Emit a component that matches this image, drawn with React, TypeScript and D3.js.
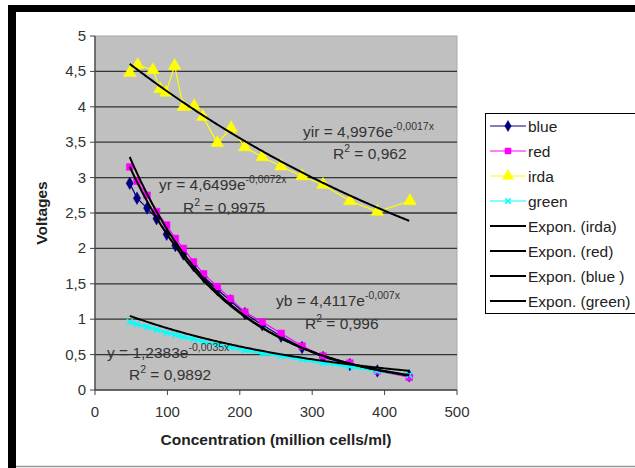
import { useEffect, useRef } from 'react'
import * as d3 from 'd3'

// values
const concentration = [48, 58, 72, 85, 99, 111, 122, 136, 150, 169, 187, 207, 231, 257, 286, 315, 352, 390, 434]
const irdaConcentration = [48, 59, 80, 90, 98, 110, 122, 137, 149, 169, 188, 207, 231, 257, 286, 315, 352, 390, 435]
const blue = [2.92, 2.71, 2.57, 2.42, 2.2, 2.04, 1.92, 1.76, 1.6, 1.42, 1.26, 1.08, 0.92, 0.76, 0.6, 0.46, 0.36, 0.27, 0.2]
const red = [3.15, 2.95, 2.75, 2.52, 2.33, 2.14, 2.0, 1.81, 1.64, 1.46, 1.29, 1.1, 0.96, 0.8, 0.62, 0.48, 0.38, 0.27, 0.18]
const irda = [4.48, 4.59, 4.52, 4.25, 4.2, 4.58, 4.0, 4.01, 3.86, 3.49, 3.7, 3.43, 3.29, 3.16, 3.02, 2.9, 2.67, 2.52, 2.67]
const green = [0.96, 0.93, 0.89, 0.85, 0.81, 0.78, 0.75, 0.72, 0.68, 0.64, 0.6, 0.56, 0.52, 0.48, 0.43, 0.38, 0.33, 0.27, 0.21]

const yTicks = [0, 0.5, 1, 1.5, 2, 2.5, 3, 3.5, 4, 4.5, 5]
const xTicks = [0, 100, 200, 300, 400, 500]

// trendline equations as printed on the chart
const fitNames = ['irda', 'red', 'blue', 'green']
const fitA = [4.9976, 4.6499, 4.4117, 1.2383]
const fitB = [-0.0017, -0.0072, -0.007, -0.0035]

const fmt = (v: number) => String(v).replace('.', ',')

export default function App() {
  const svgRef = useRef<SVGSVGElement>(null)

  useEffect(() => {
    document.body.style.margin = '0'
    if (!svgRef.current) return
    const root = d3.select(svgRef.current)
    root.selectAll('*').remove()

    const font = 'Liberation Sans, Arial, sans-serif'
    const left = 95, right = 457, top = 36, bottom = 390

    const x = d3.scaleLinear().domain([0, 500]).range([left, right])
    const y = d3.scaleLinear().domain([0, 5]).range([bottom, top])

    // frame
    root.append('rect').attr('x', 8).attr('y', 5).attr('width', 627).attr('height', 7).attr('fill', '#000')
    root.append('rect').attr('x', 8).attr('y', 5).attr('width', 8).attr('height', 463).attr('fill', '#000')
    root.append('line').attr('x1', 16).attr('x2', 635).attr('y1', 466.5).attr('y2', 466.5)
      .attr('stroke', '#999').attr('stroke-width', 1.5)

    // plot area
    root.append('rect').attr('x', left).attr('y', top).attr('width', right - left).attr('height', bottom - top)
      .attr('fill', '#c0c0c0').attr('stroke', '#a8a8a8')

    root.selectAll('.grid')
      .data(yTicks.filter(t => t > 0 && t < 5))
      .join('line')
      .attr('x1', left).attr('x2', right)
      .attr('y1', d => y(d)).attr('y2', d => y(d))
      .attr('stroke', '#333').attr('stroke-width', 1.3)

    // axes
    root.append('line').attr('x1', left).attr('x2', left).attr('y1', top).attr('y2', bottom)
      .attr('stroke', '#444').attr('stroke-width', 1.3)
    root.append('line').attr('x1', left).attr('x2', right).attr('y1', bottom).attr('y2', bottom)
      .attr('stroke', '#444').attr('stroke-width', 1.3)

    root.selectAll('.ytick')
      .data(yTicks)
      .join('line')
      .attr('x1', left - 5).attr('x2', left)
      .attr('y1', d => y(d)).attr('y2', d => y(d))
      .attr('stroke', '#444')
    root.selectAll('.ylabel')
      .data(yTicks)
      .join('text')
      .attr('x', left - 9)
      .attr('y', d => y(d) + 5)
      .attr('text-anchor', 'end')
      .attr('font-family', font).attr('font-size', 15).attr('fill', '#333')
      .text(d => fmt(d))

    root.selectAll('.xtick')
      .data(xTicks)
      .join('line')
      .attr('x1', d => x(d)).attr('x2', d => x(d))
      .attr('y1', bottom).attr('y2', bottom + 5)
      .attr('stroke', '#444')
    root.selectAll('.xlabel')
      .data(xTicks)
      .join('text')
      .attr('x', d => x(d))
      .attr('y', bottom + 27)
      .attr('text-anchor', 'middle')
      .attr('font-family', font).attr('font-size', 15).attr('fill', '#333')
      .text(d => d)

    root.append('text')
      .attr('x', (left + right) / 2).attr('y', 445)
      .attr('text-anchor', 'middle')
      .attr('font-family', font).attr('font-size', 15.5).attr('font-weight', 'bold').attr('fill', '#222')
      .text('Concentration (million cells/ml)')
    root.append('text')
      .attr('transform', `translate(47,${(top + bottom) / 2}) rotate(-90)`)
      .attr('text-anchor', 'middle')
      .attr('font-family', font).attr('font-size', 15.5).attr('font-weight', 'bold').attr('fill', '#222')
      .text('Voltages')

    const series = [
      { name: 'blue', xs: concentration, ys: blue, color: '#000080', marker: d3.symbolDiamond, size: 45, lw: 1.2 },
      { name: 'red', xs: concentration, ys: red, color: '#ff00ff', marker: d3.symbolSquare, size: 45, lw: 1.2 },
      { name: 'irda', xs: irdaConcentration, ys: irda, color: '#ffff00', marker: d3.symbolTriangle, size: 70, lw: 1.2 },
      { name: 'green', xs: concentration, ys: green, color: '#00ffff', marker: d3.symbolX, size: 25, lw: 2.5 },
    ]

    const line = d3.line<[number, number]>().x(d => x(d[0])).y(d => y(d[1]))
    const plot = root.append('g')

    series.forEach(s => {
      const pts = s.xs.map((c, i) => [c, s.ys[i]] as [number, number])
      plot.append('path').attr('d', line(pts)).attr('fill', 'none')
        .attr('stroke', s.color).attr('stroke-width', s.lw)
      const sym = d3.symbol().type(s.marker).size(s.size)
      plot.selectAll(null)
        .data(pts)
        .join('path')
        .attr('transform', d => `translate(${x(d[0])},${y(d[1])})`)
        .attr('d', sym())
        .attr('fill', s.marker === d3.symbolX ? 'none' : s.color)
        .attr('stroke', s.color)
        .attr('stroke-width', s.marker === d3.symbolX ? 1.5 : 0.5)
    })

    // exponential trendlines
    fitNames.forEach((n, i) => {
      const xs = d3.range(48, 436, 2)
      const pts = xs.map(c => [c, fitA[i] * Math.exp(fitB[i] * c)] as [number, number])
      plot.append('path').attr('d', line(pts)).attr('fill', 'none')
        .attr('stroke', '#000').attr('stroke-width', 2)
    })

    // equation labels
    const eqs = [
      { pre: 'yir = 4,9976e', exp: '-0,0017x', x: 303, y: 137, r2: '0,962', rx: 333, ry: 159 },
      { pre: 'yr = 4,6499e', exp: '-0,0072x', x: 159, y: 190, r2: '0,9975', rx: 183, ry: 213 },
      { pre: 'yb = 4,4117e', exp: '-0,007x', x: 276, y: 306, r2: '0,996', rx: 305, ry: 329 },
      { pre: 'y = 1,2383e', exp: '-0,0035x', x: 107, y: 358, r2: '0,9892', rx: 129, ry: 380 },
    ]
    eqs.forEach(e => {
      const t = root.append('text').attr('x', e.x).attr('y', e.y)
        .attr('font-family', font).attr('font-size', 15.5).attr('fill', '#333')
      t.append('tspan').text(e.pre)
      t.append('tspan').attr('dy', -7).attr('font-size', 10.5).text(e.exp)
      const r = root.append('text').attr('x', e.rx).attr('y', e.ry)
        .attr('font-family', font).attr('font-size', 15.5).attr('fill', '#333')
      r.append('tspan').text('R')
      r.append('tspan').attr('dy', -7).attr('font-size', 10.5).text('2')
      r.append('tspan').attr('dy', 7).text(' = ' + e.r2)
    })

    // legend
    const lg = root.append('g')
    lg.append('rect').attr('x', 485.5).attr('y', 113.5).attr('width', 150).attr('height', 200)
      .attr('fill', '#fff').attr('stroke', '#000')
    const entries = [
      ...series.map(s => ({ label: s.name, color: s.color, marker: s.marker, size: s.size })),
      { label: 'Expon. (irda)', color: '#000', marker: null, size: 0 },
      { label: 'Expon. (red)', color: '#000', marker: null, size: 0 },
      { label: 'Expon. (blue )', color: '#000', marker: null, size: 0 },
      { label: 'Expon. (green)', color: '#000', marker: null, size: 0 },
    ]
    entries.forEach((e, i) => {
      const cy = 126 + i * 25
      lg.append('line').attr('x1', 490).attr('x2', 526).attr('y1', cy).attr('y2', cy)
        .attr('stroke', e.color).attr('stroke-width', e.marker ? 1.2 : 2)
      if (e.marker) {
        lg.append('path')
          .attr('transform', `translate(508,${cy})`)
          .attr('d', d3.symbol().type(e.marker).size(e.size * 0.8)())
          .attr('fill', e.marker === d3.symbolX ? 'none' : e.color)
          .attr('stroke', e.color)
          .attr('stroke-width', e.marker === d3.symbolX ? 1.5 : 0.5)
      }
      lg.append('text').attr('x', 528).attr('y', cy + 5.5)
        .attr('font-family', font).attr('font-size', 15.5).attr('fill', '#222')
        .text(e.label)
    })
  }, [])

  return <svg ref={svgRef} width={635} height={468} style={{ display: 'block' }} />
}
